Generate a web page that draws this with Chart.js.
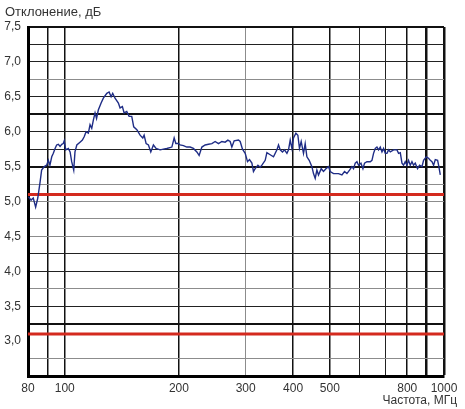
<!DOCTYPE html>
<html lang="ru">
<head>
<meta charset="utf-8">
<title>Отклонение, дБ</title>
<script src="https://cdn.jsdelivr.net/npm/chart.js@4.4.1/dist/chart.umd.min.js"></script>
<style>
  html, body { margin: 0; padding: 0; background: #fff; }
  #chart { display: block; }
</style>
</head>
<body>
<canvas id="chart" width="465" height="409"></canvas>
<script>
// --- Данные ---
const freqs = [
  80.2, 81.5, 82.6, 83.8, 84.9, 86.1, 86.9, 88.3, 89.6, 90.5, 91.4, 92.4, 93.3, 94.3, 95.2, 96.2,
  97.2, 98.2, 99.1, 99.7, 100.6, 102.2, 103.3, 104.3, 105.6, 106.4, 107.6, 109.7, 111.3, 112.6,
  113.8, 115.4, 116.6, 117.8, 119.0, 120.2, 121.3, 122.6, 124.7, 126.4, 129.1, 130.9, 132.5,
  133.8, 135.7, 138.5, 139.9, 141.9, 143.4, 145.7, 147.8, 150.2, 152.0, 154.9, 158.0, 160.6,
  161.9, 163.9, 166.2, 168.6, 171.3, 174.1, 178.4, 182.0, 185.8, 191.6, 194.3, 196.3, 199.4,
  201.5, 205.6, 209.8, 214.1, 218.4, 223.0, 226.1, 229.9, 234.5, 239.3, 244.3, 249.2, 254.3,
  259.6, 264.8, 269.2, 273.0, 275.8, 279.7, 287.1, 290.1, 294.2, 299.1, 303.3, 307.0, 311.5,
  314.5, 317.8, 323.1, 327.6, 331.0, 337.7, 341.2, 348.1, 355.2, 362.6, 366.1, 369.9, 375.1,
  379.7, 385.3, 389.1, 393.1, 397.2, 401.0, 406.9, 411.8, 415.8, 420.2, 426.1, 430.5, 435.0,
  441.1, 448.4, 452.8, 457.5, 462.2, 466.7, 474.5, 481.1, 488.2, 496.0, 501.1, 511.3, 527.1,
  538.1, 546.7, 554.7, 563.5, 571.8, 577.4, 583.4, 589.4, 595.2, 604.0, 611.3, 617.3, 626.4,
  639.1, 645.7, 652.0, 658.8, 665.6, 672.1, 679.1, 686.2, 692.9, 700.1, 707.3, 714.2, 721.7,
  736.3, 751.6, 759.0, 766.9, 774.8, 782.2, 790.3, 798.5, 806.4, 814.8, 823.2, 831.2, 839.8,
  851.7, 862.1, 874.8, 883.4, 898.0, 910.7, 920.1, 929.7, 938.8, 948.5, 961.9, 967.7, 977.8
];
const deviation = [
  5.07, 5.02, 5.05, 4.92, 5.05, 5.28, 5.45, 5.50, 5.52, 5.59, 5.52, 5.64, 5.69, 5.76, 5.81, 5.82,
  5.79, 5.82, 5.83, 5.87, 5.74, 5.76, 5.71, 5.57, 5.45, 5.71, 5.81, 5.85, 5.88, 5.93,
  6.00, 5.98, 6.10, 6.05, 6.17, 6.27, 6.19, 6.31, 6.41, 6.48, 6.55, 6.57, 6.50,
  6.55, 6.48, 6.41, 6.34, 6.36, 6.27, 6.29, 6.22, 6.22, 6.07, 6.03, 5.95, 5.91,
  5.95, 5.83, 5.81, 5.71, 5.81, 5.76, 5.74, 5.75, 5.76, 5.78, 5.91, 5.83, 5.83,
  5.81, 5.80, 5.78, 5.78, 5.76, 5.71, 5.66, 5.78, 5.81, 5.82, 5.83, 5.86, 5.83,
  5.86, 5.85, 5.88, 5.86, 5.78, 5.87, 5.88, 5.86, 5.75, 5.69, 5.57, 5.60, 5.55,
  5.43, 5.47, 5.52, 5.49, 5.52, 5.59, 5.70, 5.67, 5.64, 5.74, 5.81, 5.74, 5.71,
  5.74, 5.69, 5.74, 5.88, 5.76, 5.91, 5.98, 5.95, 5.76, 5.86, 5.69, 5.83, 5.64,
  5.59, 5.50, 5.40, 5.33, 5.45, 5.38, 5.47, 5.43, 5.47, 5.50, 5.43, 5.40, 5.40,
  5.38, 5.43, 5.40, 5.45, 5.50, 5.47, 5.55, 5.57, 5.52, 5.55, 5.47, 5.55, 5.57,
  5.57, 5.59, 5.69, 5.76, 5.78, 5.74, 5.78, 5.71, 5.76, 5.69, 5.69, 5.74, 5.71,
  5.74, 5.74, 5.69, 5.70, 5.55, 5.52, 5.57, 5.52, 5.59, 5.52, 5.57, 5.52, 5.55,
  5.47, 5.52, 5.50, 5.59, 5.64, 5.62, 5.59, 5.57, 5.52, 5.60, 5.59, 5.52, 5.38
];
const upperLimit = 5.1;  // верхняя красная линия
const lowerLimit = 3.1;  // нижняя красная линия

// --- Оси ---
const xMin = 80, xMax = 1000;
const xGridFreqs = [80, 90, 100, 200, 300, 400, 500, 600, 700, 800, 900, 1000];
const xLabelFreqs = [80, 100, 200, 300, 400, 500, 800, 1000];
const yMin = 2.5, yMax = 7.5, yStep = 0.25;

const font = '"Liberation Sans", Arial, sans-serif';
const textColor = '#333';

// стиль горизонтальных линий сетки
function yGrid(v) {
  if (v === 3.0) return { color: 'rgba(0,0,0,0)', width: 1 };
  if ([6.25, 5.5, 3.25, 7.5].includes(v)) return { color: '#111', width: 2 };
  if ([6.75, 5.25, 5.0, 4.75, 4.5, 3.75, 2.75].includes(v)) return { color: '#8c8c8c', width: 1 };
  return { color: '#222', width: 1 };
}
// стиль вертикальных линий сетки
function xGrid(v) {
  if (v >= 900) return { color: '#111', width: 2.5 };
  if (v === 300) return { color: '#8c8c8c', width: 1 };
  if (v === 600 || v === 700) return { color: '#222', width: 1 };
  return { color: '#111', width: 1.5 };
}

// подписи осей
const axisTitles = {
  id: 'axisTitles',
  afterDraw(chart) {
    const ctx = chart.ctx;
    ctx.save();
    ctx.fillStyle = textColor;
    ctx.textBaseline = 'alphabetic';
    ctx.font = '13px ' + font;
    ctx.textAlign = 'left';
    ctx.fillText('Отклонение, дБ', 5, 16);
    ctx.font = '12px ' + font;
    ctx.textAlign = 'right';
    ctx.fillText('Частота, МГц', 457, 404);
    ctx.restore();
  }
};

const points = freqs.map((f, i) => ({ x: f, y: deviation[i] }));
const limitLine = v => [{ x: xMin, y: v }, { x: xMax, y: v }];

new Chart(document.getElementById('chart'), {
  type: 'line',
  data: {
    datasets: [
      { data: points, borderColor: '#1f2d86', borderWidth: 1.4, pointRadius: 0, tension: 0, order: 0 },
      { data: limitLine(upperLimit), borderColor: '#d42a1e', borderWidth: 3, pointRadius: 0, order: 1 },
      { data: limitLine(lowerLimit), borderColor: '#d42a1e', borderWidth: 3, pointRadius: 0, order: 1 }
    ]
  },
  options: {
    responsive: false,
    animation: false,
    layout: { padding: { top: 27, right: 21, left: 0, bottom: 0 } },
    plugins: { legend: { display: false }, tooltip: { enabled: false } },
    scales: {
      x: {
        type: 'logarithmic',
        min: xMin,
        max: xMax,
        afterBuildTicks: scale => { scale.ticks = xGridFreqs.map(v => ({ value: v })); },
        afterFit: scale => { scale.height = 33; },
        border: { display: true, color: '#000', width: 3 },
        grid: {
          drawTicks: false,
          color: c => xGrid(c.tick.value).color,
          lineWidth: c => xGrid(c.tick.value).width
        },
        ticks: {
          autoSkip: false,
          maxRotation: 0,
          padding: 5,
          color: textColor,
          font: { family: font, size: 12 },
          callback: v => xLabelFreqs.includes(v) ? String(v) : ''
        }
      },
      y: {
        min: yMin,
        max: yMax,
        afterFit: scale => { scale.width = 28; },
        border: { display: true, color: '#000', width: 3 },
        grid: {
          drawTicks: false,
          color: c => yGrid(c.tick.value).color,
          lineWidth: c => yGrid(c.tick.value).width
        },
        ticks: {
          stepSize: yStep,
          autoSkip: false,
          padding: 7,
          color: textColor,
          font: { family: font, size: 12 },
          callback: v => (v > yMin && Math.abs(v * 2 - Math.round(v * 2)) < 1e-6) ? v.toFixed(1).replace('.', ',') : ''
        }
      }
    }
  },
  plugins: [axisTitles]
});
</script>
</body>
</html>
